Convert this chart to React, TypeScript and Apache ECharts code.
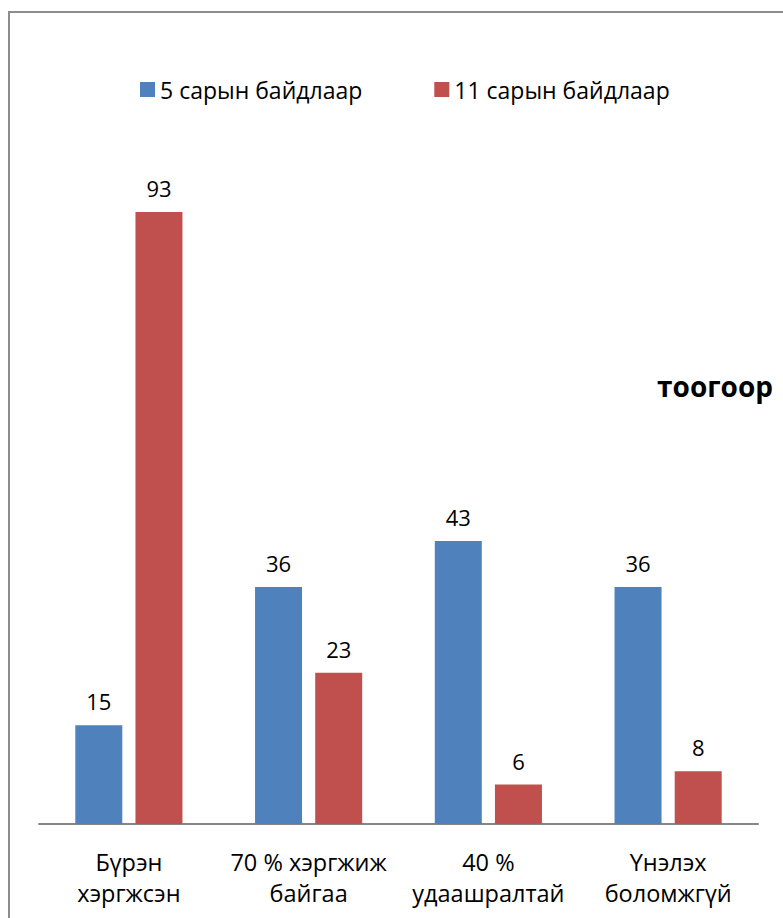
import React, { useEffect, useRef } from "react";
import * as echarts from "echarts";

const categories = ["Бүрэн\nхэргжсэн", "70 % хэргжиж\nбайгаа", "40 %\nудаашралтай", "Үнэлэх\nболомжгүй"];
const seriesNames = ["5 сарын байдлаар", "11 сарын байдлаар"];
const may = [15, 36, 43, 36];
const november = [93, 23, 6, 8];
const sideLabel = "тоогоор";

const FONT = "'Open Sans', 'Noto Sans', sans-serif";

export default function App() {
  const ref = useRef<HTMLDivElement>(null);
  useEffect(() => {
    if (!ref.current) return;
    const chart = echarts.init(ref.current, undefined, { renderer: "svg" });
    chart.setOption({
      animation: false,
      backgroundColor: "#ffffff",
      textStyle: { fontFamily: FONT },
      legend: {
        data: seriesNames,
        top: 73,
        left: 135,
        itemWidth: 15,
        itemHeight: 15,
        itemGap: 72,
        icon: "rect",
        textStyle: { fontSize: 23, color: "#000", fontFamily: FONT },
      },
      grid: { left: 39, right: 25, top: 166, bottom: 94, containLabel: false },
      xAxis: {
        type: "category",
        data: categories,
        axisLine: { lineStyle: { color: "#868686", width: 2 } },
        axisTick: { show: false },
        axisLabel: { fontSize: 23.5, color: "#000", lineHeight: 31, margin: 22, interval: 0, fontFamily: FONT },
      },
      yAxis: {
        type: "value",
        min: 0,
        max: 100,
        show: false,
        splitLine: { show: false },
      },
      series: [
        {
          name: seriesNames[0],
          type: "bar",
          data: may,
          barWidth: 47,
          barGap: "28%",
          itemStyle: { color: "#4f81bd" },
          label: { show: true, position: "top", distance: 13, fontSize: 22, color: "#000", fontFamily: FONT },
        },
        {
          name: seriesNames[1],
          type: "bar",
          data: november,
          barWidth: 47,
          itemStyle: { color: "#c0504d" },
          label: { show: true, position: "top", distance: 13, fontSize: 22, color: "#000", fontFamily: FONT },
        },
      ],
      graphic: [
        {
          type: "rect",
          shape: { x: 9, y: 12, width: 800, height: 950 },
          style: { fill: "none", stroke: "#8c8c8c", lineWidth: 2 },
          silent: true,
        },
        {
          type: "text",
          right: 10,
          top: 372,
          style: { text: sideLabel, fontSize: 28, fontWeight: "bold", fill: "#000", fontFamily: FONT },
        },
      ],
    });
    return () => chart.dispose();
  }, []);
  return <div ref={ref} style={{ position: "fixed", left: 0, top: 0, width: 783, height: 918 }} />;
}
